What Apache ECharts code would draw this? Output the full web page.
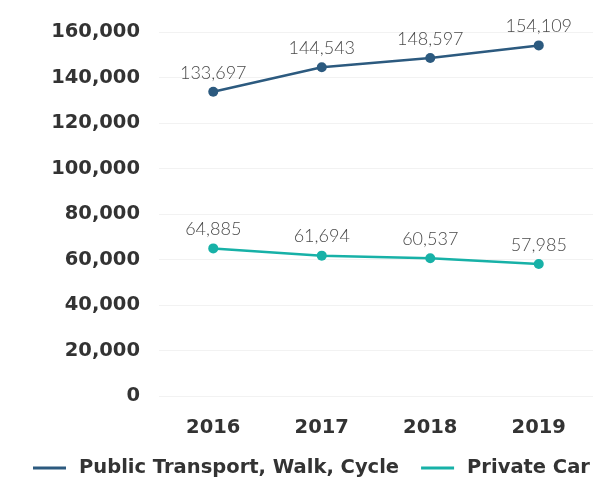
<!DOCTYPE html>
<html>
<head>
<meta charset="utf-8">
<script src="https://cdn.jsdelivr.net/npm/echarts@6/dist/echarts.min.js"></script>
<style>
  html, body { margin: 0; padding: 0; background: #fff; }
  #chart { width: 601px; height: 477px; }
</style>
</head>
<body>
<div id="chart"></div>
<script>
var years = ['2016', '2017', '2018', '2019'];
var publicTransport = [133697, 144543, 148597, 154109];
var privateCar = [64885, 61694, 60537, 57985];
var seriesNames = ['Public Transport, Walk, Cycle', 'Private Car'];
var colors = ['#2c5a7f', '#17b1a7'];

var boldFont = 'DejaVu Sans';
var chart = echarts.init(document.getElementById('chart'));

function fmt(v) {
  return String(v).replace(/\B(?=(\d{3})+(?!\d))/g, ',');
}

function makeSeries(name, data, color) {
  return {
    name: name,
    type: 'line',
    data: data,
    symbol: 'circle',
    symbolSize: 10,
    lineStyle: { width: 2.5, color: color },
    itemStyle: { color: color },
    label: {
      show: true,
      position: 'top',
      distance: 5,
      color: '#4a4a4a',
      fontFamily: 'Lato',
      fontWeight: 300,
      fontSize: 18,
      formatter: function (p) { return fmt(p.value); }
    }
  };
}

var option = {
  animation: false,
  color: colors,
  grid: { left: 159, right: 8, top: 32, bottom: 81 },
  legend: {
    bottom: -6,
    left: 28,
    itemWidth: 33,
    itemHeight: 3,
    itemGap: 22,
    icon: 'rect',
    textStyle: { color: '#333', fontSize: 19.5, fontWeight: 'bold', fontFamily: boldFont, padding: [0, 0, 0, 8] },
    data: seriesNames
  },
  xAxis: {
    type: 'category',
    data: years,
    boundaryGap: true,
    axisLine: { show: false },
    axisTick: { show: false },
    axisLabel: { color: '#333', fontSize: 19.5, fontWeight: 'bold', fontFamily: boldFont, margin: 22 }
  },
  yAxis: {
    type: 'value',
    min: 0,
    max: 160000,
    interval: 20000,
    axisLine: { show: false },
    axisTick: { show: false },
    splitLine: { lineStyle: { color: '#f2f2f2', width: 1 } },
    axisLabel: {
      color: '#333', fontSize: 19.5, fontWeight: 'bold', fontFamily: boldFont, margin: 19,
      formatter: function (v) { return fmt(v); }
    }
  },
  series: [
    makeSeries(seriesNames[0], publicTransport, colors[0]),
    makeSeries(seriesNames[1], privateCar, colors[1])
  ]
};

chart.setOption(option);
</script>
</body>
</html>
